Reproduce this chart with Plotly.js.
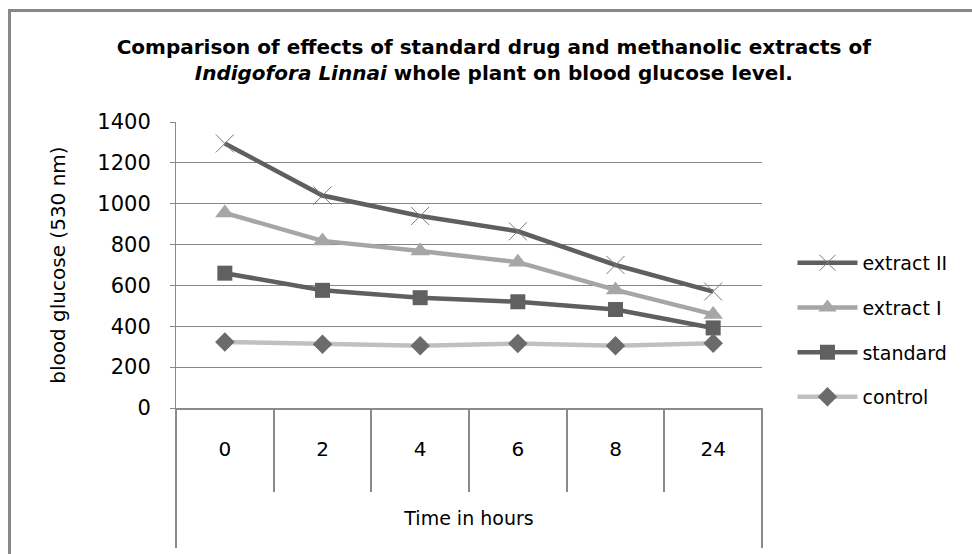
<!DOCTYPE html>
<html>
<head>
<meta charset="utf-8">
<script src="https://cdn.plot.ly/plotly-3.0.1.min.js"></script>
<style>html,body{margin:0;padding:0;background:#fff;}#chart{width:972px;height:554px;}</style>
</head>
<body>
<div id="chart"></div>
<script>
var hours = ['0', '2', '4', '6', '8', '24'];
var extractII = [1295, 1040, 940, 865, 700, 570];
var extractI = [955, 818, 768, 714, 578, 458];
var standard = [660, 576, 540, 520, 482, 392];
var control = [323, 312, 305, 316, 305, 317];
var yTickVals = [0, 200, 400, 600, 800, 1000, 1200, 1400];

var FONT = 'DejaVu Sans';
var traces = [
  {name: 'extract II', x: hours, y: extractII, type: 'scatter', mode: 'lines+markers', legendgroup: 'a',
   line: {color: '#5f5f5f', width: 4.5},
   marker: {symbol: 'x-thin-open', size: 18, color: '#7a7a7a', line: {color: '#7a7a7a', width: 1}}},
  {name: 'extract I', x: hours, y: extractI, type: 'scatter', mode: 'lines+markers', legendgroup: 'b',
   line: {color: '#a6a6a6', width: 4.5},
   marker: {symbol: 'triangle-up', size: 17, color: '#a6a6a6'}},
  {name: 'standard', x: hours, y: standard, type: 'scatter', mode: 'lines+markers', legendgroup: 'c',
   line: {color: '#5f5f5f', width: 4.5},
   marker: {symbol: 'square', size: 15, color: '#606060'}},
  {name: 'control', x: hours, y: control, type: 'scatter', mode: 'lines+markers', legendgroup: 'd',
   line: {color: '#c0c0c0', width: 4.5},
   marker: {symbol: 'diamond', size: 15, color: '#6b6b6b'}}
];

var layout = {
  width: 972, height: 554,
  margin: {l: 176, r: 210, t: 122, b: 146},
  paper_bgcolor: '#ffffff', plot_bgcolor: '#ffffff',
  font: {family: FONT, color: '#000000', size: 18},
  showlegend: true,
  title: {
    text: '<b>Comparison of effects of standard drug and methanolic extracts of<br><i>Indigofora Linnai</i> whole plant on blood glucose level.</b>',
    font: {family: FONT, size: 20, color: '#000'},
    x: 0.508, xanchor: 'center', y: 0.903, yanchor: 'top', xref: 'container', yref: 'container'
  },
  xaxis: {
    type: 'category', categoryorder: 'array', categoryarray: hours,
    range: [-0.5, 5.5], fixedrange: true,
    tickson: 'boundaries', ticks: 'outside', ticklen: 82, tickwidth: 2, tickcolor: '#8a8a8a',
    ticklabelstandoff: 22,
    showline: true, linecolor: '#8a8a8a', linewidth: 2,
    showgrid: false, zeroline: false,
    tickfont: {family: FONT, size: 20, color: '#000'},
    title: {text: 'Time in hours', font: {family: FONT, size: 19, color: '#000'}, standoff: 52}
  },
  yaxis: {
    range: [0, 1400], tickvals: yTickVals, fixedrange: true,
    ticks: 'outside', ticklen: 5, tickcolor: '#8a8a8a', tickwidth: 1,
    ticklabelstandoff: 15,
    showline: true, linecolor: '#8a8a8a', linewidth: 1,
    showgrid: true, gridcolor: '#868686', gridwidth: 1, zeroline: false,
    tickfont: {family: FONT, size: 21, color: '#000'},
    title: {text: 'blood glucose (530 nm)', font: {family: FONT, size: 20, color: '#000'}, standoff: 26}
  },
  legend: {
    x: 1.052, xanchor: 'left', y: 0.273, yanchor: 'middle',
    traceorder: 'grouped', tracegroupgap: 17,
    font: {family: FONT, size: 19, color: '#000'},
    bgcolor: 'rgba(0,0,0,0)', itemwidth: 60
  },
  shapes: [
    {type: 'line', xref: 'paper', yref: 'paper', x0: -0.286, x1: 1.36, y0: 1.3897, y1: 1.3897, line: {color: '#878787', width: 3}},
    {type: 'line', xref: 'paper', yref: 'paper', x0: -0.2841, x1: -0.2841, y0: 1.3950, y1: -0.52, line: {color: '#878787', width: 3}},
    {type: 'line', xref: 'paper', yref: 'paper', x0: 0, x1: 0, y0: 0, y1: -0.4895, line: {color: '#8a8a8a', width: 2}},
    {type: 'line', xref: 'paper', yref: 'paper', x0: 1, x1: 1, y0: 0, y1: -0.4895, line: {color: '#8a8a8a', width: 2}}
  ]
};

Plotly.newPlot('chart', traces, layout, {displayModeBar: false, staticPlot: true});
</script>
</body>
</html>
